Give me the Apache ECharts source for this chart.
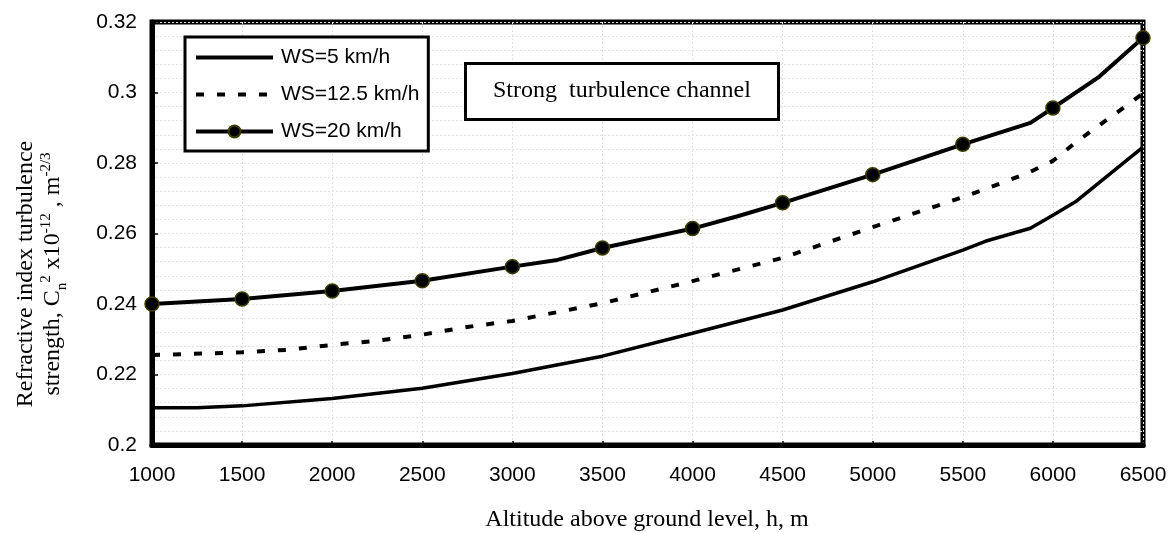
<!DOCTYPE html>
<html>
<head>
<meta charset="utf-8">
<script src="https://cdn.jsdelivr.net/npm/echarts@6/dist/echarts.min.js"></script>
<style>
html,body{margin:0;padding:0;background:#fff;}
#chart{width:1171px;height:533px;}
</style>
</head>
<body>
<div id="chart"></div>
<script>
// ---- data ----
const seriesNames = ['WS=5 km/h', 'WS=12.5 km/h', 'WS=20 km/h'];

const ws5Alt = [1000, 1250, 1500, 2000, 2500, 3000, 3500, 4000, 4500, 5000, 5500, 5625, 5875, 6000, 6125, 6500];
const ws5Val = [0.2106, 0.2106, 0.2111, 0.2132, 0.2161, 0.2203, 0.2252, 0.2317, 0.2383, 0.2463, 0.2553, 0.2578, 0.2615, 0.2652, 0.2690, 0.2845];

const ws12Alt = [1000, 1500, 1750, 2000, 2250, 2500, 2750, 3000, 3500, 4000, 4500, 5000, 5500, 5750, 5875, 6000, 6125, 6500];
const ws12Val = [0.2255, 0.2263, 0.2270, 0.2284, 0.2296, 0.2313, 0.2335, 0.2352, 0.2402, 0.2465, 0.2531, 0.2618, 0.2703, 0.2750, 0.2775, 0.2806, 0.2858, 0.2997];

const ws20Alt = [1000, 1500, 2000, 2500, 3000, 3250, 3500, 4000, 4250, 4500, 5000, 5500, 5875, 6000, 6250, 6500];
const ws20Val = [0.2400, 0.2414, 0.2437, 0.2466, 0.2506, 0.2525, 0.2559, 0.2614, 0.2649, 0.2687, 0.2767, 0.2853, 0.2914, 0.2956, 0.3042, 0.3155];
const ws20MarkedAlt = [1000, 1500, 2000, 2500, 3000, 3500, 4000, 4500, 5000, 5500, 6000, 6500];

const xMin = 1000, xMax = 6500, xStep = 500;
const yMin = 0.2, yMax = 0.32, yStep = 0.02;

const xTitle = 'Altitude above ground level, h, m';
const annotation = 'Strong  turbulence channel';

// ---- build ----
const pairs = (xs, ys) => xs.map((x, i) => [x, ys[i]]);
const ws20Data = ws20Alt.map((x, i) => {
  const item = { value: [x, ws20Val[i]] };
  if (ws20MarkedAlt.indexOf(x) < 0) item.symbol = 'none';
  return item;
});

const chart = echarts.init(document.getElementById('chart'), null, { renderer: 'canvas' });

const gridStyle = { color: '#e2e2e2', width: 1, type: [2, 2] };
const dashPattern = [8, 13];

chart.setOption({
  backgroundColor: '#ffffff',
  animation: false,
  grid: {
    left: 152, right: 28, top: 22, bottom: 88,
    show: true, borderColor: '#000', borderWidth: 5, backgroundColor: 'transparent'
  },
  title: {
    text: annotation,
    left: 465, top: 63,
    padding: [16, 28, 17, 28],
    borderColor: '#000', borderWidth: 3, backgroundColor: '#fff',
    textStyle: { fontFamily: 'Liberation Serif', fontWeight: 'normal', fontSize: 24, color: '#000' }
  },
  legend: {
    orient: 'vertical',
    left: 185, top: 37,
    padding: [10, 9, 9, 9],
    itemWidth: 77, itemHeight: 15, itemGap: 16,
    borderColor: '#000', borderWidth: 3, backgroundColor: '#fff',
    textStyle: { fontFamily: 'Liberation Sans', fontSize: 21, color: '#000', lineHeight: 21, padding: [0, 0, 0, 3] },
    data: [
      { name: seriesNames[0], itemStyle: { opacity: 0 }, lineStyle: { width: 4, color: '#000', type: 'solid' } },
      { name: seriesNames[1], itemStyle: { opacity: 0 }, lineStyle: { width: 4, color: '#000', type: dashPattern } },
      { name: seriesNames[2], lineStyle: { width: 4, color: '#000', type: 'solid' } }
    ]
  },
  xAxis: {
    type: 'value',
    min: xMin, max: xMax, interval: xStep,
    axisLine: { show: true, lineStyle: { color: '#000', width: 5 } },
    axisTick: { show: true, inside: true, length: 4, lineStyle: { color: '#000', width: 1.5 } },
    axisLabel: { margin: 20, fontFamily: 'Liberation Sans', fontSize: 21, color: '#000', formatter: v => String(v) },
    splitLine: { show: true, lineStyle: gridStyle }
  },
  yAxis: {
    type: 'value',
    min: yMin, max: yMax, interval: yStep,
    axisLine: { show: true, lineStyle: { color: '#000', width: 5 } },
    axisTick: { show: true, inside: true, length: 6, lineStyle: { color: '#000', width: 1.5 } },
    minorTick: { show: true, splitNumber: 5, length: 3, lineStyle: { color: '#000', width: 1 } },
    axisLabel: {
      margin: 15, fontFamily: 'Liberation Sans', fontSize: 21, color: '#000',
      formatter: v => String(Math.round(v * 1000) / 1000)
    },
    splitLine: { show: true, lineStyle: gridStyle },
    minorSplitLine: { show: true, lineStyle: gridStyle }
  },
  graphic: [
    {
      type: 'text',
      x: 647, y: 520,
      style: {
        text: xTitle,
        font: '24px "Liberation Serif"',
        fill: '#000',
        align: 'center', verticalAlign: 'middle'
      }
    },
    {
      type: 'text',
      x: 39, y: 274,
      rotation: Math.PI / 2,
      style: {
        text: '{a|Refractive index turbulence}\n{a|strength, C}{sub|n}{sup|2}{a| x10}{sup|-12}{a| , m}{sup|-2/3}',
        align: 'center', verticalAlign: 'middle',
        fill: '#000',
        rich: {
          a: { fontFamily: 'Liberation Serif', fontSize: 24, lineHeight: 27, verticalAlign: 'middle', fill: '#000', color: '#000' },
          sup: { fontFamily: 'Liberation Serif', fontSize: 15, lineHeight: 27, verticalAlign: 'top', fill: '#000', color: '#000' },
          sub: { fontFamily: 'Liberation Serif', fontSize: 15, lineHeight: 27, verticalAlign: 'bottom', fill: '#000', color: '#000', padding: [0, 0, -4, 0] }
        }
      }
    }
  ],
  series: [
    {
      name: seriesNames[0],
      type: 'line',
      data: pairs(ws5Alt, ws5Val),
      symbol: 'none',
      lineStyle: { color: '#000', width: 3.5, type: 'solid' },
      itemStyle: { color: '#000' },
      z: 3
    },
    {
      name: seriesNames[1],
      type: 'line',
      data: pairs(ws12Alt, ws12Val),
      symbol: 'none',
      lineStyle: { color: '#000', width: 4, type: dashPattern },
      itemStyle: { color: '#000' },
      z: 3
    },
    {
      name: seriesNames[2],
      type: 'line',
      data: ws20Data,
      symbol: 'circle',
      symbolSize: 14,
      showAllSymbol: true,
      lineStyle: { color: '#000', width: 4 },
      itemStyle: { color: '#000', borderColor: '#3d3d00', borderWidth: 1.5 },
      clip: false,
      z: 4
    }
  ]
});
</script>
</body>
</html>
